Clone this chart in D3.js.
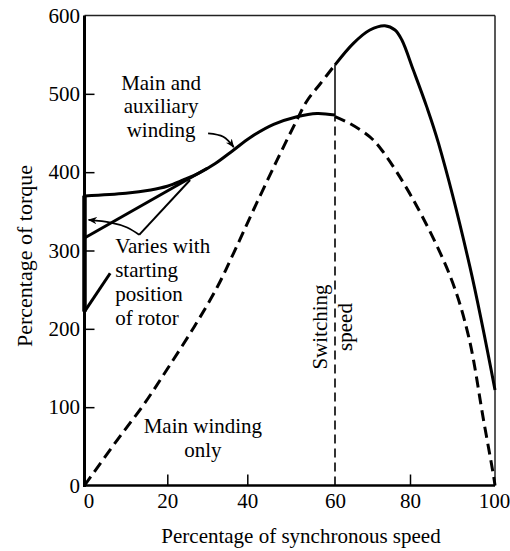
<!DOCTYPE html>
<html>
<head>
<meta charset="utf-8">
<script src="https://cdn.jsdelivr.net/npm/d3@7"></script>
<style>
  html, body { margin: 0; padding: 0; background: #fff; }
  svg { display: block; }
  text { font-family: "Liberation Serif", "Times New Roman", serif; fill: #000; }
</style>
</head>
<body>
<svg id="chart" width="510" height="551"></svg>
<script>
// ---- data (percent of synchronous speed, percent of torque) ----
const xTicks = [0, 20, 40, 60, 80, 100];
const yTicks = [0, 100, 200, 300, 400, 500, 600];
const switchingSpeed = 60;

// main winding only, before switching (dashed)
const mainOnlyX = [0, 7.9, 14.4, 20, 26.7, 32.5, 36.7, 41.4, 46.7, 51.3, 53.6, 56.6, 60];
const mainOnlyY = [0, 58, 104, 148.7, 202.4, 253.4, 298, 351.7, 414.3, 466.6, 490.9, 512.6, 537];

// main winding only, after switching (solid)
const afterX = [60, 64.9, 69.3, 73.3, 76, 77.8, 80.8, 83.9, 86.7, 94.1, 100];
const afterY = [537, 564.5, 581.5, 587, 581.5, 569, 530, 484, 437, 279, 122];

// main and auxiliary winding, before switching (solid)
const auxX = [0, 10, 16, 20, 24, 28, 32, 36.5, 40.6, 46, 51.3, 55.9, 60];
const auxY = [369.6, 373, 377.3, 382, 390, 399, 411, 428, 444, 461, 470.8, 475, 473];

// main and auxiliary winding, after switching (dashed)
const auxAfterX = [60, 64, 69.3, 72.5, 80.8, 89.5, 93.8, 97.3, 99.7, 100];
const auxAfterY = [471, 462, 445, 428, 364.5, 266.6, 190, 83.6, 11, 0];

// alternative starting curves (vary with starting rotor position)
const startMidX = [0, 30];
const startMidY = [316, 405];
const startLowX = [0, 6.2];
const startLowY = [222, 271];
const startRange = [222, 370];

// ---- layout ----
const svg = d3.select("#chart");
const x = d3.scaleLinear().domain(xTicks).range([84.5, 167.3, 247.3, 335, 410, 495]);
const y = d3.scaleLinear().domain([0, 600]).range([485.5, 15.5]);

const zip = (xs, ys) => xs.map((v, i) => [v, ys[i]]);
const line = d3.line().x(d => x(d[0])).y(d => y(d[1])).curve(d3.curveCatmullRom.alpha(0.5));
const straight = d3.line().x(d => x(d[0])).y(d => y(d[1]));

// arrow marker
const defs = svg.append("defs");
defs.append("marker")
  .attr("id", "arrow").attr("viewBox", "0 0 10 10")
  .attr("refX", 9).attr("refY", 5)
  .attr("markerWidth", 9).attr("markerHeight", 9)
  .attr("markerUnits", "userSpaceOnUse")
  .attr("orient", "auto")
  .append("path").attr("d", "M0,1 L10,5 L0,9 L3,5 Z").attr("fill", "#000");

// axes
const xAxis = d3.axisBottom(x).tickValues(xTicks).tickSizeInner(-11).tickSizeOuter(0).tickPadding(8);
const yAxis = d3.axisLeft(y).tickValues(yTicks).tickSizeInner(-10).tickSizeOuter(0).tickPadding(4.5);

const gx = svg.append("g").attr("transform", `translate(0,${y(0)})`).call(xAxis);
const gy = svg.append("g").attr("transform", `translate(${x(0)},0)`).call(yAxis);
[gx, gy].forEach(g => {
  g.select(".domain").remove();
  g.selectAll(".tick line").attr("stroke", "#000").attr("stroke-width", 1.5);
  g.selectAll(".tick text").style("font-size", "21px").style("font-family", "Liberation Serif");
});
gx.selectAll(".tick").filter(d => d === 0 || d === 100 || d === 60).select("line").remove();
gx.selectAll(".tick").filter(d => d === 0).select("text").attr("dx", 4);
gx.selectAll(".tick").filter(d => d === 100).select("text").attr("dx", -1);
gy.selectAll(".tick").filter(d => d === 0 || d === 600).select("line").remove();

// frame
svg.append("line").attr("x1", x(0)).attr("x2", x(100)).attr("y1", y(600)).attr("y2", y(600))
  .attr("stroke", "#222").attr("stroke-width", 1.5);
svg.append("line").attr("x1", x(100)).attr("x2", x(100)).attr("y1", y(600)).attr("y2", y(0))
  .attr("stroke", "#222").attr("stroke-width", 1.5);
svg.append("line").attr("x1", x(0)).attr("x2", x(0)).attr("y1", y(600)).attr("y2", y(0) + 1.5)
  .attr("stroke", "#000").attr("stroke-width", 3);
svg.append("line").attr("x1", x(0) - 1.5).attr("x2", x(100)).attr("y1", y(0)).attr("y2", y(0))
  .attr("stroke", "#000").attr("stroke-width", 2.5);

// thick starting range on axis
svg.append("path").attr("d", straight([[0, startRange[0]], [0, startRange[1]]]))
  .attr("stroke", "#000").attr("stroke-width", 4.5).attr("fill", "none");

// switching speed line
svg.append("path").attr("d", straight([[switchingSpeed, 0], [switchingSpeed, 471]]))
  .attr("stroke", "#000").attr("stroke-width", 1.6).attr("stroke-dasharray", "9,5").attr("fill", "none");
svg.append("path").attr("d", straight([[switchingSpeed, 471], [switchingSpeed, 537]]))
  .attr("stroke", "#000").attr("stroke-width", 1.5).attr("fill", "none");

// curves
const curveStyle = (p, dashed) => p.attr("fill", "none").attr("stroke", "#000")
  .attr("stroke-width", 3).attr("stroke-linecap", "butt").attr("stroke-linejoin", "round")
  .attr("stroke-dasharray", dashed ? "11,6" : null);

curveStyle(svg.append("path").attr("d", line(zip(mainOnlyX, mainOnlyY))), true);
curveStyle(svg.append("path").attr("d", line(zip(afterX, afterY))), false);
curveStyle(svg.append("path").attr("d", line(zip(auxX, auxY))), false);
curveStyle(svg.append("path").attr("d", line(zip(auxAfterX, auxAfterY))), true);
curveStyle(svg.append("path").attr("d", straight(zip(startMidX, startMidY))), false);
curveStyle(svg.append("path").attr("d", straight(zip(startLowX, startLowY))), false);

// annotation leaders
const leader = [[13.2, 320], [25.7, 390]];
const variesArrow = [[13.2, 320], [10.3, 329.3], [6.3, 335.7], [1.0, 339]];
const windingArrow = [[30.2, 449.6], [34, 445.3], [36.6, 432]];
svg.append("path").attr("d", straight(leader)).attr("stroke", "#000").attr("stroke-width", 2).attr("fill", "none");
svg.append("path").attr("d", d3.line().x(d => x(d[0])).y(d => y(d[1])).curve(d3.curveNatural)(variesArrow))
  .attr("stroke", "#000").attr("stroke-width", 1.8).attr("fill", "none").attr("marker-end", "url(#arrow)");
svg.append("path").attr("d", d3.line().x(d => x(d[0])).y(d => y(d[1])).curve(d3.curveNatural)(windingArrow))
  .attr("stroke", "#000").attr("stroke-width", 1.8).attr("fill", "none").attr("marker-end", "url(#arrow)");

// text labels
const fs = 21;
function block(lines, cx, ys, anchor) {
  lines.forEach((t, i) => {
    svg.append("text").attr("x", x(cx)).attr("y", y(ys[i]))
      .attr("text-anchor", anchor).style("font-size", fs + "px").text(t);
  });
}
block(["Main and", "auxiliary", "winding"], 18.5, [504.8, 474.9, 444.9], "middle");
block(["Varies with", "starting", "position", "of rotor"], 7.4, [296.8, 266.2, 235.5, 204.9], "start");
block(["Main winding", "only"], 28.9, [66.6, 36.8], "middle");

// rotated switching speed label
[["Switching", 58.2], ["speed", 64.5]].forEach(([t, xv]) => {
  svg.append("text")
    .attr("transform", `translate(${x(xv)},${y(202.3)}) rotate(-90)`)
    .attr("text-anchor", "middle").style("font-size", fs + "px").text(t);
});

// axis titles
svg.append("text").attr("x", 301).attr("y", 543).attr("text-anchor", "middle")
  .style("font-size", "21px").text("Percentage of synchronous speed");
svg.append("text").attr("transform", "translate(32,256) rotate(-90)").attr("text-anchor", "middle")
  .style("font-size", "22px").text("Percentage of torque");
</script>
</body>
</html>
